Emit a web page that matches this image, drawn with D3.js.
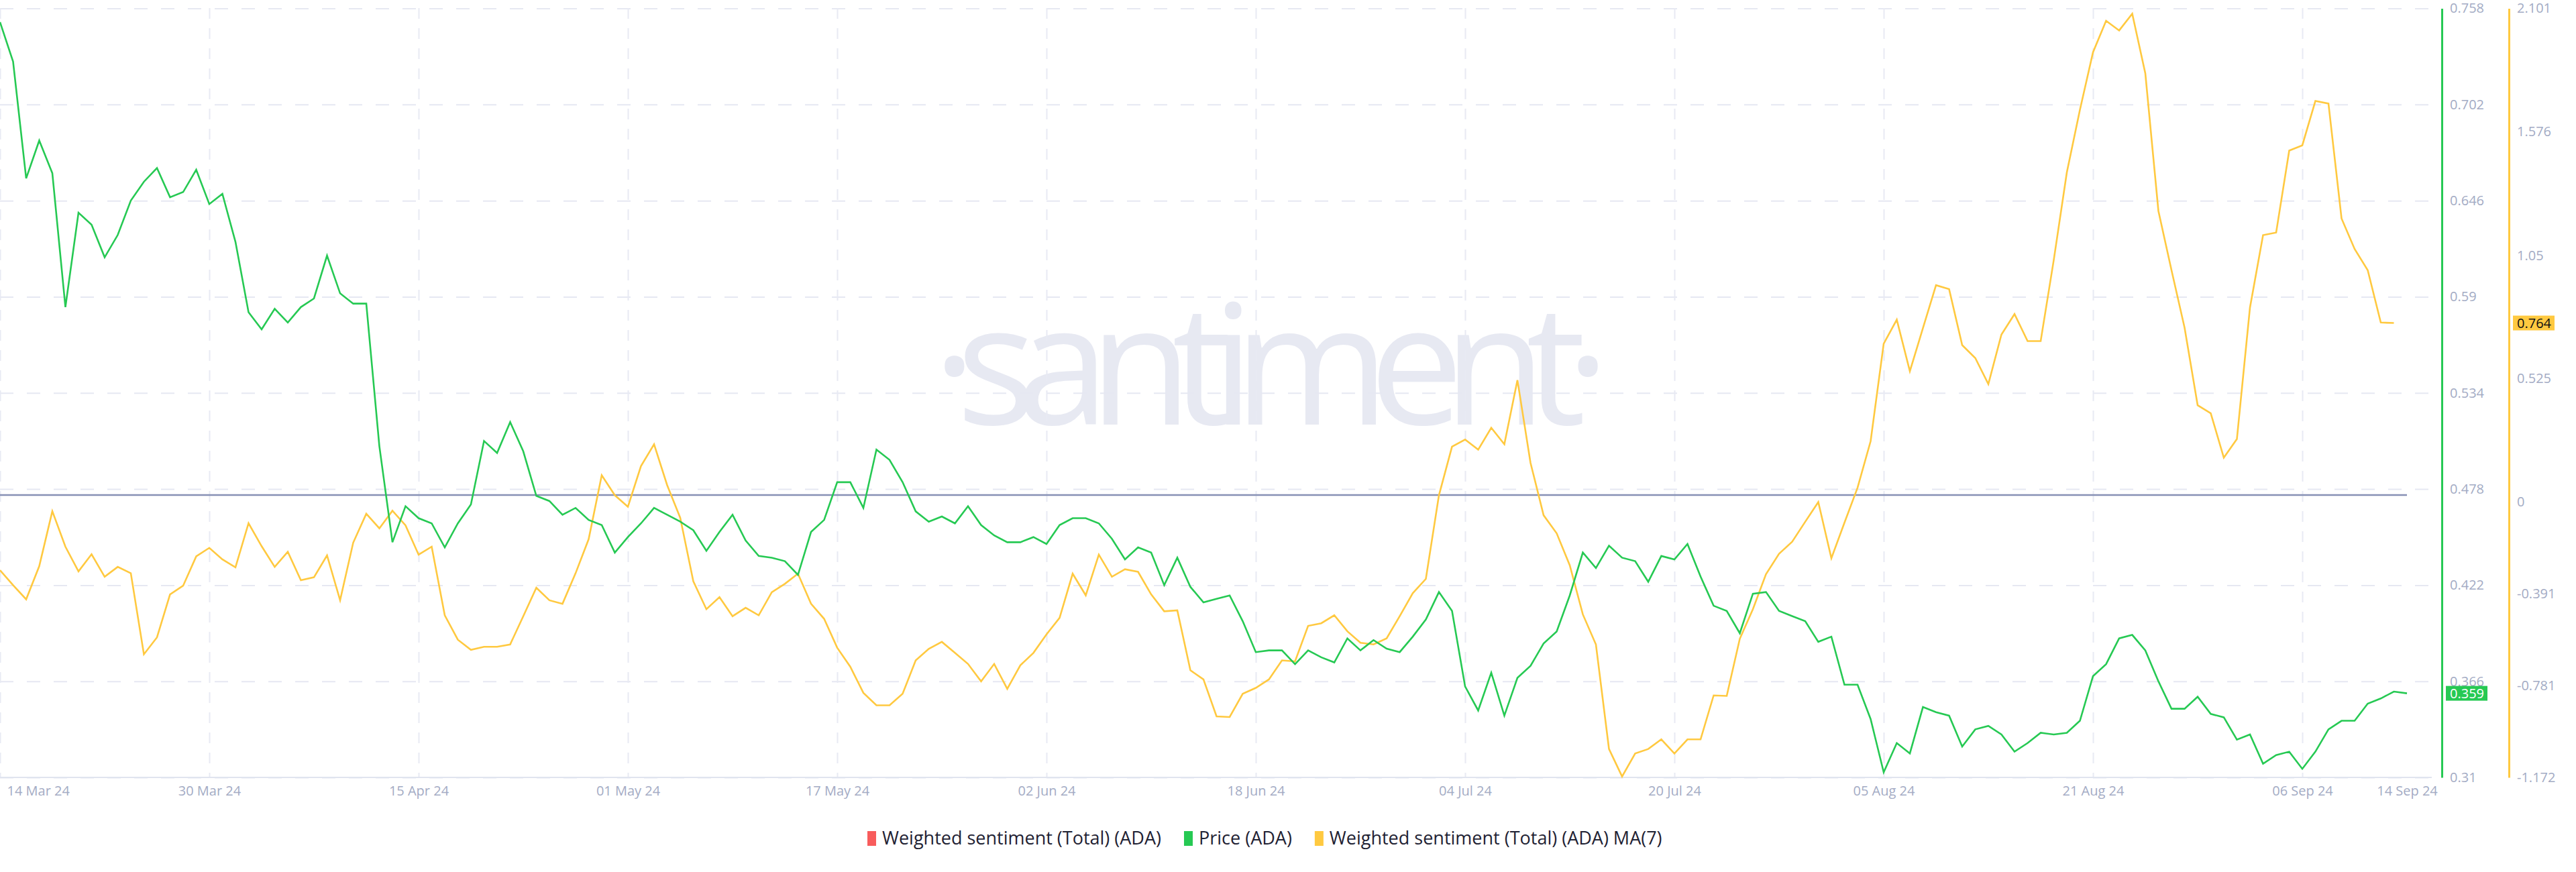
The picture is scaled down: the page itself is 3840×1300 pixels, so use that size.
<!DOCTYPE html>
<html><head><meta charset="utf-8">
<script src="https://cdn.jsdelivr.net/npm/d3@7"></script>
<style>body{margin:0;background:#fff}svg{display:block}text{font-family:"Open Sans",Roboto,sans-serif}</style>
</head><body><svg id="c" width="3840" height="1300"></svg>
<script>
const startDate = "2024-03-14";
const price = [0.750,0.727,0.659,0.681,0.662,0.584,0.639,0.632,0.613,0.626,0.646,0.657,0.665,0.648,0.651,0.664,0.644,0.650,0.622,0.581,0.571,0.583,0.575,0.584,0.589,0.614,0.592,0.586,0.586,0.503,0.447,0.468,
0.461,0.458,0.444,0.458,0.469,0.506,0.499,0.517,0.500,0.474,0.471,0.463,0.467,0.460,0.457,0.441,0.450,0.458,0.467,0.463,0.459,0.454,0.442,0.453,0.463,0.448,0.439,0.438,0.436,0.428,0.453,
0.460,0.482,0.482,0.467,0.501,0.495,0.482,0.465,0.459,0.462,0.458,0.468,0.457,0.451,0.447,0.447,0.450,0.446,0.457,0.461,0.461,0.458,0.449,0.437,0.444,0.441,0.422,0.438,0.421,0.412,0.414,
0.416,0.401,0.383,0.384,0.384,0.376,0.384,0.380,0.377,0.391,0.384,0.390,0.385,0.383,0.392,0.402,0.418,0.407,0.363,0.349,0.371,0.346,0.368,0.375,0.388,0.395,0.416,0.441,0.432,0.445,0.438,
0.436,0.424,0.439,0.437,0.446,0.427,0.410,0.407,0.394,0.417,0.418,0.407,0.404,0.401,0.389,0.392,0.364,0.364,0.344,0.313,0.330,0.324,0.351,0.348,0.346,0.328,0.338,0.340,0.335,0.325,
0.330,0.336,0.335,0.336,0.343,0.369,0.376,0.391,0.393,0.384,0.366,0.350,0.350,0.357,0.347,0.345,0.332,0.335,0.318,0.323,0.325,0.315,0.325,0.338,0.343,0.343,0.353,0.356,0.360,0.359];
const sentimentMA7 = [-0.290,-0.354,-0.414,-0.273,-0.039,-0.190,-0.295,-0.222,-0.318,-0.276,-0.303,-0.648,-0.576,-0.393,-0.356,-0.231,-0.195,-0.244,-0.278,-0.090,-0.188,-0.276,-0.212,-0.333,-0.320,-0.227,-0.418,-0.173,-0.050,-0.112,-0.037,-0.099,
-0.224,-0.190,-0.482,-0.586,-0.629,-0.616,-0.616,-0.606,-0.486,-0.365,-0.418,-0.433,-0.303,-0.158,0.114,0.029,-0.020,0.153,0.246,0.072,-0.067,-0.337,-0.456,-0.405,-0.486,-0.450,-0.482,-0.384,-0.348,-0.305,-0.433,
-0.497,-0.620,-0.701,-0.812,-0.865,-0.865,-0.816,-0.674,-0.625,-0.595,-0.642,-0.689,-0.763,-0.689,-0.795,-0.695,-0.642,-0.563,-0.493,-0.305,-0.397,-0.224,-0.318,-0.286,-0.297,-0.393,-0.465,-0.461,-0.716,-0.755,-0.912,
-0.915,-0.816,-0.791,-0.755,-0.674,-0.678,-0.527,-0.516,-0.482,-0.550,-0.599,-0.606,-0.580,-0.486,-0.388,-0.327,0.029,0.236,0.266,0.223,0.316,0.246,0.519,0.167,-0.056,-0.133,-0.269,-0.478,-0.606,-1.051,-1.168,
-1.070,-1.051,-1.010,-1.070,-1.010,-1.010,-0.823,-0.825,-0.582,-0.456,-0.307,-0.220,-0.169,-0.084,0.0,-0.239,-0.088,0.061,0.259,0.674,0.776,0.557,0.740,0.923,0.906,0.668,0.613,0.502,0.713,0.800,
0.685,0.685,1.030,1.403,1.669,1.914,2.048,2.007,2.078,1.824,1.239,0.987,0.742,0.412,0.378,0.189,0.268,0.828,1.136,1.147,1.496,1.518,1.707,1.696,1.207,1.077,0.987,0.764,0.762];
const sentimentLevel = [0.4745];
const priceTicks = [0.31,0.366,0.422,0.478,0.534,0.59,0.646,0.702,0.758];
const sentTicks = [-1.172,-0.781,-0.391,0,0.525,1.05,1.576,2.101];
const xTickDates = ["2024-03-14","2024-03-30","2024-04-15","2024-05-01","2024-05-17","2024-06-02","2024-06-18","2024-07-04","2024-07-20","2024-08-05","2024-08-21","2024-09-06","2024-09-14"];
const legendItems = [["Weighted sentiment (Total) (ADA)","#f85c5c"],["Price (ADA)","#26c953"],["Weighted sentiment (Total) (ADA) MA(7)","#ffc940"]];

const svg = d3.select("#c");
const parse = d3.utcParse("%Y-%m-%d");
const t0 = parse(startDate);
const day = i => d3.utcDay.offset(t0, i);
const x = d3.scaleUtc().domain([t0, day(184)]).range([0, 3588]);
const yP = d3.scaleLinear().domain([0.31,0.758]).range([1159,12.5]);
const yS = d3.scaleLinear().domain([-1.172,2.101]).range([1159,12.5]);
const fmt = d3.utcFormat("%d %b %y");
const lab = "#a3abc4";

svg.append("text").attr("x",1390).attr("y",633).attr("textLength",1010).attr("lengthAdjust","spacing")
  .attr("font-size",250).attr("fill","#e7e9f2").text("·santiment·");

const gH = d3.axisLeft(yP).tickValues(priceTicks).tickSize(0).tickFormat("");
svg.append("g").call(gH).call(g=>{g.select(".domain").remove();g.selectAll("line").attr("x1",0).attr("x2",3625).attr("stroke","#e6e8f2").attr("stroke-width",2).attr("stroke-dasharray","20,20");});
const xdates = xTickDates.map(parse);
const gV = d3.axisBottom(x).tickValues(xdates.slice(0,-1)).tickSize(1147).tickFormat("");
svg.append("g").attr("transform","translate(0,12)").call(gV).call(g=>{g.select(".domain").remove();g.selectAll("line").attr("stroke","#e8eaf3").attr("stroke-width",2).attr("stroke-dasharray","16,14");});

svg.append("line").attr("x1",0).attr("x2",3625).attr("y1",1159).attr("y2",1159).attr("stroke","#e0e4ef").attr("stroke-width",2);
const ax = d3.axisBottom(x).tickValues(xdates).tickSize(0).tickFormat(fmt);
svg.append("g").attr("transform","translate(0,1165)").call(ax).call(g=>{
  g.select(".domain").remove();
  g.selectAll("text").attr("fill",lab).attr("font-size",20).attr("dy","0.9em");
  g.select(".tick text").attr("text-anchor","start").attr("dx",10);
});

svg.append("g").selectAll("line").data(sentimentLevel).join("line")
  .attr("x1",x(day(0))).attr("x2",x(day(184))).attr("y1",d=>yP(d)).attr("y2",d=>yP(d))
  .attr("stroke","#8791b5").attr("stroke-width",2.5);

svg.append("path").datum(sentimentMA7).attr("fill","none").attr("stroke","#ffc940").attr("stroke-width",2.6)
  .attr("d",d3.line().x((d,i)=>x(day(i))).y(d=>yS(d)));
svg.append("path").datum(price).attr("fill","none").attr("stroke","#26c953").attr("stroke-width",2.6)
  .attr("d",d3.line().x((d,i)=>x(day(i))).y(d=>yP(d)));

const aP = d3.axisRight(yP).tickValues(priceTicks).tickSize(0).tickPadding(12).tickFormat(d=>String(d));
svg.append("g").attr("transform","translate(3640,0)").call(aP).call(g=>{
  g.select(".domain").attr("stroke","#26c953").attr("stroke-width",3);
  g.selectAll("text").attr("fill",lab).attr("font-size",20);
});
const aS = d3.axisRight(yS).tickValues(sentTicks).tickSize(0).tickPadding(12).tickFormat(d=>String(d));
svg.append("g").attr("transform","translate(3740,0)").call(aS).call(g=>{
  g.select(".domain").attr("stroke","#ffc940").attr("stroke-width",3);
  g.selectAll("text").attr("fill",lab).attr("font-size",20);
});

function badge(xp,yv,txt,bg,fg){
  const g=svg.append("g").attr("transform",`translate(${xp},${yv})`);
  g.append("rect").attr("x",0).attr("y",-11).attr("width",62).attr("height",22).attr("fill",bg);
  g.append("text").attr("x",6).attr("y",7).attr("font-size",20).attr("fill",fg).text(txt);
}
badge(3646,yP(price[price.length-1]),d3.format(".3f")(price[price.length-1]),"#26c953","#fff");
badge(3746,yS(sentimentMA7[sentimentMA7.length-1]),d3.format(".3f")(sentimentMA7[sentimentMA7.length-1]+0.002),"#ffc940","#111");

const lg = svg.append("g").attr("transform","translate(0,1250)");
let cx = 1293;
legendItems.forEach(([t,c])=>{
  lg.append("rect").attr("x",cx).attr("y",-11).attr("width",13).attr("height",22).attr("fill",c);
  const tx = lg.append("text").attr("x",cx+22).attr("y",9).attr("font-size",27).attr("fill","#1f2233").text(t);
  cx += 22 + tx.node().getComputedTextLength() + 34;
});
</script></body></html>
